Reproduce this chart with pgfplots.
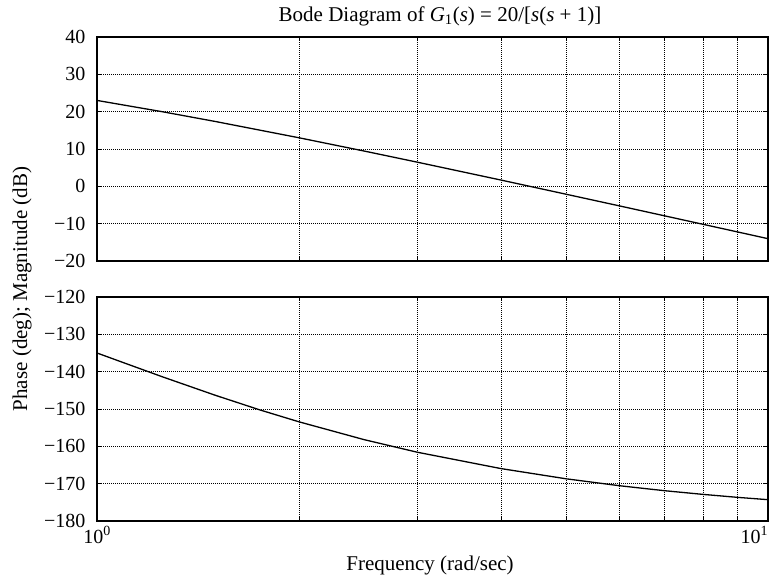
\documentclass[border=0pt]{standalone}
\usepackage{fontspec}
\setmainfont{Liberation Serif}
\usepackage{pgfplots}
\pgfplotsset{compat=1.18}
\pgfplotsset{
  bode/.style={
    xmin=1, xmax=10,
    scale only axis, width=671pt, height=224pt,
    axis line style={line width=1.1pt},
    tick align=inside, tick pos=both,
    major tick length=5pt, minor tick length=4pt,
    every tick/.style={black, line width=0.8pt},
    xtick={1,10},
    minor xtick={2,3,4,5,6,7,8,9},
    xminorgrids=true, ymajorgrids=true,
    minor grid style={black, line width=0.7pt, dash pattern=on 1pt off 1pt},
    major grid style={black, line width=0.7pt, dash pattern=on 1pt off 1pt},
    tick label style={font=\fontsize{20}{24}\selectfont},
    yticklabel style={xshift=-8pt},
    xticklabel style={yshift=-2pt},
  }
}
\begin{document}
\begin{tikzpicture}[x=1pt,y=1pt]
\path[use as bounding box] (0,0) rectangle (783,581);
\begin{semilogxaxis}[bode, at={(97pt,320pt)}, anchor=south west,
  ymin=-20, ymax=40, ytick={-20,-10,0,10,20,30,40},
  yticklabels={−20,−10,0,10,20,30,40},
  xticklabels={}]
\addplot[black, line width=1.3pt] coordinates {
(1,23.01) (1.25,20.00) (1.5,17.38) (2,13.01) (2.5,9.46) (3,6.48) (4,1.68)
(5,-2.11) (6,-5.22) (7,-7.87) (8,-10.17) (9,-12.20) (10,-14.02)};
\end{semilogxaxis}
\begin{semilogxaxis}[bode, at={(97pt,60pt)}, anchor=south west,
  ymin=-180, ymax=-120, ytick={-180,-170,-160,-150,-140,-130,-120},
  yticklabels={−180,−170,−160,−150,−140,−130,−120},
  xticklabels={10\textsuperscript{0},\llap{10\textsuperscript{1}}}]
\addplot[black, line width=1.3pt] coordinates {
(1,-135.0) (1.25,-141.34) (1.5,-146.31) (1.75,-150.26) (2,-153.43) (2.5,-158.20) (3,-161.57)
(4,-165.96) (5,-168.69) (6,-170.54) (7,-171.87) (8,-172.87) (9,-173.66) (10,-174.29)};
\end{semilogxaxis}
\node[font=\fontsize{21}{25}\selectfont] at (440,565) {Bode Diagram of \textit{G}\textsubscript{1}(\textit{s}) = 20/[\textit{s}(\textit{s} + 1)]};
\node[font=\fontsize{21}{25}\selectfont] at (430,16) {Frequency (rad/sec)};
\node[font=\fontsize{21}{25}\selectfont, rotate=90] at (22,292) {Phase (deg); Magnitude (dB)};
\end{tikzpicture}
\end{document}
